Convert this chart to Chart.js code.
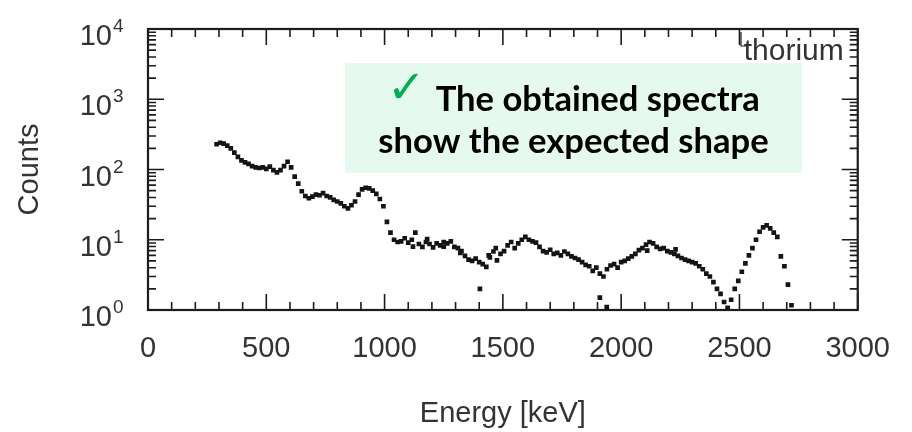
<!DOCTYPE html>
<html>
<head>
<meta charset="utf-8">
<script src="https://cdn.jsdelivr.net/npm/chart.js@4.4.0/dist/chart.umd.min.js"></script>
<style>
  html, body { margin: 0; padding: 0; background: #fff; }
  #wrap { width: 912px; height: 432px; }
</style>
</head>
<body>
<div id="wrap"><canvas id="spectrum" width="912" height="432"></canvas></div>
<script>
// gamma spectrum of the thorium source, counts per channel
const energy = [
  290, 305, 320, 335, 350, 365, 380, 395, 410, 425,
  440, 455, 470, 485, 500, 515, 530, 545, 560, 575,
  590, 605, 620, 635, 650, 665, 680, 695, 710, 725,
  740, 755, 770, 785, 800, 815, 830, 845, 860, 875,
  890, 905, 920, 935, 950, 965, 980, 995, 1010, 1025,
  1040, 1055, 1070, 1085, 1100, 1115, 1130, 1145, 1160, 1175,
  1190, 1205, 1220, 1235, 1250, 1265, 1280, 1295, 1310, 1325,
  1340, 1355, 1370, 1385, 1400, 1415, 1430, 1445, 1460, 1475,
  1490, 1505, 1520, 1535, 1550, 1565, 1580, 1595, 1610, 1625,
  1640, 1655, 1670, 1685, 1700, 1715, 1730, 1745, 1760, 1775,
  1790, 1805, 1820, 1835, 1850, 1865, 1880, 1895, 1910, 1925,
  1940, 1955, 1970, 1985, 2000, 2015, 2030, 2045, 2060, 2075,
  2090, 2105, 2120, 2135, 2150, 2165, 2180, 2195, 2210, 2225,
  2240, 2255, 2270, 2285, 2300, 2315, 2330, 2345, 2360, 2375,
  2390, 2405, 2420, 2435, 2450, 2465, 2480, 2495, 2510, 2525,
  2540, 2555, 2570, 2585, 2600, 2615, 2630, 2645, 2660, 2675,
  2690, 2705, 2720
];
const counts = [
  229, 240, 234, 219, 200, 174, 151, 135, 126, 120,
  112, 107, 105, 107, 102, 110, 98, 91, 98, 112,
  129, 107, 79, 63, 49, 42, 39, 41, 44, 43,
  46, 42, 40, 37, 35, 33, 30, 28, 31, 35,
  44, 52, 55, 54, 50, 45, 38, 30, 18, 12.6,
  10, 9.3, 9.5, 10.5, 9.1, 10, 12.6, 8.7, 7.9, 9.3,
  8.7, 7.8, 8.9, 8.3, 9.3, 8.9, 9.5, 7.9, 7.6, 6.9,
  5.9, 5.2, 5.0, 5.4, 4.8, 4.5, 4.1, 5.6, 6.8, 5.1,
  6.3, 6.9, 8.3, 9.3, 7.6, 8.9, 10, 11, 10, 9.5,
  9.1, 7.9, 6.9, 6.6, 7.2, 6.3, 6.5, 6.0, 6.8, 6.3,
  5.8, 5.5, 5.2, 4.8, 4.4, 4.2, 3.6, 4.0, 3.3, 3.0,
  3.8, 4.3, 4.5, 4.0, 4.8, 5.0, 5.4, 5.8, 6.3, 7.1,
  7.6, 8.5, 9.3, 8.9, 7.9, 7.4, 7.6, 6.9, 6.6, 6.3,
  5.9, 5.5, 5.2, 5.0, 4.8, 4.6, 4.2, 3.8, 3.3, 3.0,
  2.5, 2.0, 1.7, 1.3, 1.07, 1.4, 2.0, 2.6, 3.5, 4.6,
  6.0, 7.6, 10, 13, 15, 16, 14.5, 12.6, 11, 5.8,
  4.2, 2.3, 1.17
];
// low-statistics channels sitting off the main band
const strayEnergy = [1120, 1180, 1250, 1320, 1403, 1440, 1470, 1910, 1939, 2110, 2230];
const strayCounts = [8.0, 10.2, 8.0, 6.5, 2.0, 6.0, 7.6, 1.5, 1.1, 7.0, 7.3];

const xTicks = [0, 500, 1000, 1500, 2000, 2500, 3000];
const yTicks = [1, 10, 100, 1000, 10000];

const AXIS_FONT = '"Liberation Sans", Arial, Helvetica, sans-serif';
const INK = '#333';

const points = energy.map((e, i) => ({ x: e, y: counts[i] }))
  .concat(strayEnergy.map((e, i) => ({ x: e, y: strayCounts[i] })));

// closed frame with inward ticks on all four sides
const frameTicks = {
  id: 'frameTicks',
  beforeDatasetsDraw(chart) {
    const { ctx, chartArea: a, scales: { x, y } } = chart;
    ctx.save();
    ctx.strokeStyle = '#1c1c1c';
    ctx.lineWidth = 1.6;
    ctx.beginPath();
    for (let v = x.min; v <= x.max; v += 100) {
      const px = x.getPixelForValue(v);
      const len = v % 500 === 0 ? 16 : 8;
      ctx.moveTo(px, a.bottom); ctx.lineTo(px, a.bottom - len);
      ctx.moveTo(px, a.top); ctx.lineTo(px, a.top + len);
    }
    for (let k = 0; k < 4; k++) {
      for (let m = 1; m < 10; m++) {
        const py = y.getPixelForValue(m * Math.pow(10, k));
        const len = m === 1 ? 16 : 8;
        ctx.moveTo(a.left, py); ctx.lineTo(a.left + len, py);
        ctx.moveTo(a.right, py); ctx.lineTo(a.right - len, py);
      }
    }
    ctx.stroke();
    ctx.lineWidth = 2.2;
    ctx.strokeRect(a.left, a.top, a.right - a.left, a.bottom - a.top);

    // corner of the legend box behind the label
    ctx.lineWidth = 1.2;
    ctx.beginPath();
    ctx.moveTo(741, a.top + 3); ctx.lineTo(741, a.top + 17); ctx.lineTo(746, a.top + 17);
    ctx.stroke();
    ctx.restore();
  },
  afterDraw(chart) {
    const { ctx, chartArea: a, scales: { y } } = chart;
    ctx.save();
    ctx.fillStyle = INK;
    // decade labels 10^n on the log axis
    yTicks.forEach(v => {
      const py = y.getPixelForValue(v);
      const exp = String(Math.round(Math.log10(v)));
      const right = a.left - 36;
      ctx.font = '29px ' + AXIS_FONT;
      ctx.textAlign = 'right';
      ctx.textBaseline = 'alphabetic';
      ctx.fillText('10', right, py + 16);
      ctx.font = '19px ' + AXIS_FONT;
      ctx.textAlign = 'left';
      ctx.fillText(exp, right + 1, py + 3);
    });

    // source label
    ctx.font = '30px ' + AXIS_FONT;
    ctx.textAlign = 'right';
    ctx.fillText('thorium', a.right - 14, a.top + 31);

    // note box
    const box = { x0: 345, y0: 63, x1: 802, y1: 173 };
    ctx.fillStyle = '#e6f9ee';
    ctx.fillRect(box.x0, box.y0, box.x1 - box.x0, box.y1 - box.y0);
    const cx = (box.x0 + box.x1) / 2;
    const line1 = 'The obtained spectra';
    const line2 = 'show the expected shape';
    const family = 'Lato, "Open Sans", sans-serif';
    ctx.font = 'bold 100px ' + family;
    const size = 100 * 390 / ctx.measureText(line2).width;
    ctx.font = 'bold ' + size.toFixed(1) + 'px ' + family;
    ctx.fillStyle = '#000';
    ctx.textAlign = 'center';
    ctx.fillText(line2, cx, 153);
    const w1 = ctx.measureText(line1).width;
    ctx.font = 'bold 46px "DejaVu Sans", sans-serif';
    const wc = ctx.measureText('\u2713').width;
    const gap = 10;
    const start = cx - (wc + gap + w1) / 2;
    ctx.textAlign = 'left';
    ctx.fillStyle = '#00b050';
    ctx.fillText('\u2713', start, 103);
    ctx.font = 'bold ' + size.toFixed(1) + 'px ' + family;
    ctx.fillStyle = '#000';
    ctx.fillText(line1, start + wc + gap, 111);
    ctx.restore();
  }
};

const config = {
  type: 'scatter',
  data: {
    datasets: [{
      data: points,
      pointStyle: 'rect',
      pointRadius: 3.3,
      pointBorderWidth: 0,
      backgroundColor: '#141414',
      borderColor: '#141414'
    }]
  },
  options: {
    responsive: false,
    animation: false,
    layout: { padding: { top: 29, right: 54, left: 0, bottom: 0 } },
    plugins: { legend: { display: false }, tooltip: { enabled: false } },
    scales: {
      x: {
        type: 'linear',
        min: 0,
        max: 3000,
        grid: { display: false, drawTicks: false },
        border: { display: false },
        afterBuildTicks: s => { s.ticks = xTicks.map(v => ({ value: v })); },
        ticks: {
          color: INK,
          padding: 22,
          maxRotation: 0,
          autoSkip: false,
          font: { family: AXIS_FONT, size: 29 },
          callback: v => String(v)
        },
        title: {
          display: true,
          text: 'Energy [keV]',
          color: INK,
          font: { family: AXIS_FONT, size: 29 },
          padding: { top: 0, bottom: 1 }
        },
        afterFit: s => { s.height = 122; }
      },
      y: {
        type: 'logarithmic',
        min: 1,
        max: 10000,
        grid: { display: false, drawTicks: false },
        border: { display: false },
        ticks: { display: false },
        title: {
          display: true,
          text: 'Counts',
          color: INK,
          font: { family: AXIS_FONT, size: 29 },
          padding: { top: 13, bottom: 0 }
        },
        afterFit: s => { s.width = 148; }
      }
    }
  },
  plugins: [frameTicks]
};

const spectrumChart = new Chart(document.getElementById('spectrum'), config);
</script>
</body>
</html>
